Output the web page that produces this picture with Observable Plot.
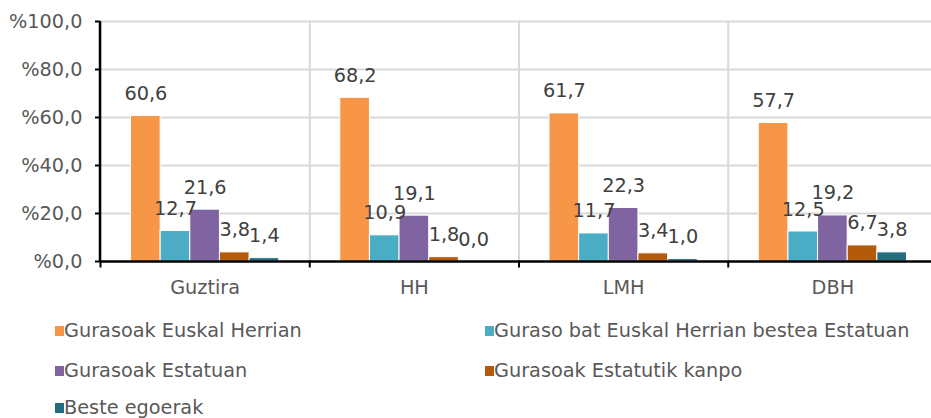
<!DOCTYPE html>
<html>
<head>
<meta charset="utf-8">
<script src="https://cdn.jsdelivr.net/npm/d3@7"></script>
<script src="https://cdn.jsdelivr.net/npm/@observablehq/plot@0.6"></script>
<style>
  html, body { margin: 0; padding: 0; background: #fff; overflow: hidden; }
  #chart svg { overflow: hidden; }
  .legend { position: relative; width: 931px; height: 108px; font-family: "DejaVu Sans", Verdana, sans-serif; font-size: 19.3px; color: #595959; }
  .legend .item { position: absolute; display: flex; align-items: center; white-space: nowrap; }
  .legend .sw { width: 9px; height: 10px; margin-right: 0px; }
</style>
</head>
<body>
<div id="chart"></div>
<div class="legend" id="legend"></div>
<script>
const categories = ["Guztira", "HH", "LMH", "DBH"];
const seriesNames = [
  "Gurasoak Euskal Herrian",
  "Guraso bat Euskal Herrian bestea Estatuan",
  "Gurasoak Estatuan",
  "Gurasoak Estatutik kanpo",
  "Beste egoerak"
];
const euskalHerrian = [60.6, 68.2, 61.7, 57.7];
const gurasoBat = [12.7, 10.9, 11.7, 12.5];
const estatuan = [21.6, 19.1, 22.3, 19.2];
const estatutikKanpo = [3.8, 1.8, 3.4, 6.7];
const besteEgoerak = [1.4, 0.0, 1.0, 3.8];
const yTicks = [0, 20, 40, 60, 80, 100];
const colors = ["#F79646", "#4BACC6", "#8064A2", "#B55A0A", "#246D7E"];

const seriesValues = [euskalHerrian, gurasoBat, estatuan, estatutikKanpo, besteEgoerak];
const data = [];
categories.forEach((c, i) => {
  seriesNames.forEach((s, j) => data.push({cat: c, series: s, value: seriesValues[j][i]}));
});

const fmt = v => v.toFixed(1).replace(".", ",");
const font = "DejaVu Sans, Verdana, sans-serif";
const H = 310, mTop = 21, mBottom = 49;

const chart = Plot.plot({
  width: 931,
  height: H,
  marginTop: mTop,
  marginBottom: mBottom,
  marginLeft: 100,
  marginRight: 0,
  style: {fontFamily: font, background: "#fff"},
  fx: {domain: categories, range: [100, 937], padding: 0, round: false, label: null},
  x: {domain: seriesNames, paddingInner: 0, paddingOuter: 1.03, round: false, axis: null},
  y: {domain: [0, 100], label: null},
  color: {domain: seriesNames, range: colors},
  marks: [
    Plot.ruleY(yTicks.slice(1), {stroke: "#d9d9d9", strokeWidth: 2}),
    Plot.frame({anchor: "left", stroke: "#d9d9d9", strokeWidth: 2}),
    Plot.frame({anchor: "left", stroke: "black", strokeWidth: 2, insetTop: H - mTop - mBottom, insetBottom: -5}),
    Plot.barY(data, {fx: "cat", x: "series", y: "value", fill: "series", stroke: "white", strokeWidth: 1}),
    Plot.text(data, {fx: "cat", x: "series", y: "value", text: d => fmt(d.value), lineAnchor: "bottom", dy: -16, fontSize: 19.3, fill: "#404040"}),
    Plot.ruleY([0], {stroke: "black", strokeWidth: 2.5}),
    Plot.axisY({ticks: yTicks, tickFormat: d => "%" + fmt(d), tickSize: 5, tickPadding: 13, fontSize: 19.3, fill: "#595959", stroke: "black", strokeWidth: 2, label: null}),
    Plot.axisFx({anchor: "bottom", tickSize: 0, tickPadding: 19, fontSize: 19.3, fill: "#595959", label: null})
  ]
});
document.getElementById("chart").appendChild(chart);

// Black y-axis line drawn from the plot's own scales
const ys = chart.scale("y");
const fxs = chart.scale("fx");
const svg = d3.select(chart);
svg.append("line")
  .attr("x1", fxs.range[0]).attr("x2", fxs.range[0])
  .attr("y1", ys.apply(100)).attr("y2", ys.apply(0))
  .attr("stroke", "black").attr("stroke-width", 2.5);

// Legend
const legendPos = [
  {left: 55, top: 9}, {left: 485, top: 9},
  {left: 55, top: 49}, {left: 485, top: 49},
  {left: 55, top: 86}
];
const legend = document.getElementById("legend");
seriesNames.forEach((s, i) => {
  const item = document.createElement("div");
  item.className = "item";
  item.style.left = legendPos[i].left + "px";
  item.style.top = legendPos[i].top + "px";
  item.innerHTML = `<span class="sw" style="background:${colors[i]}"></span><span>${s}</span>`;
  legend.appendChild(item);
});
</script>
</body>
</html>
